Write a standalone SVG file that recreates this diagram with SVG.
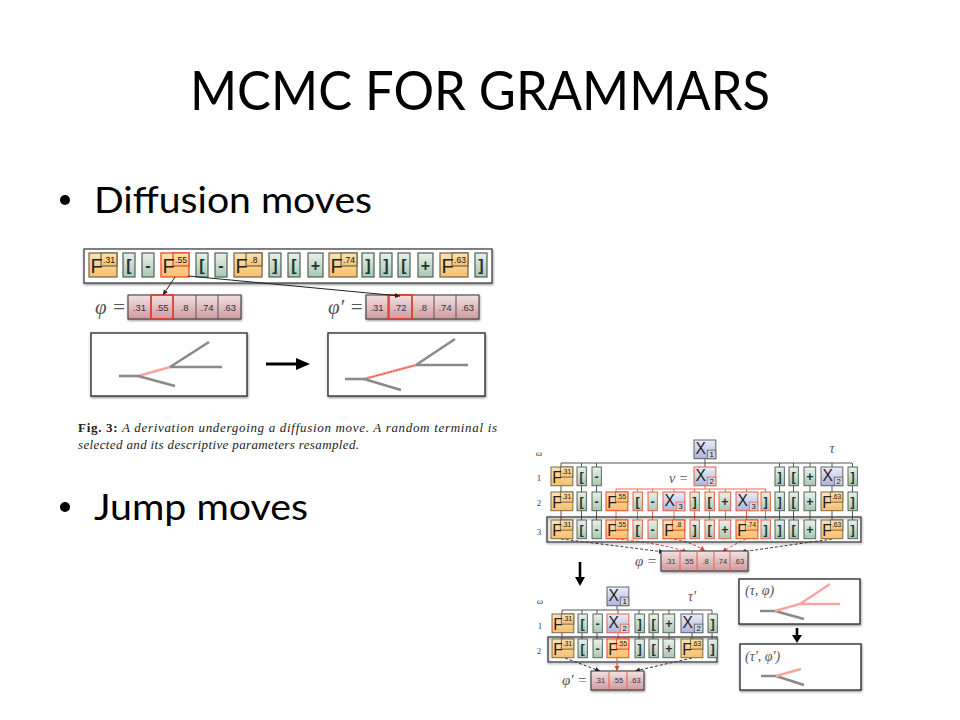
<svg xmlns="http://www.w3.org/2000/svg" width="960" height="720" viewBox="0 0 960 720">
<style>
text{font-family:"Liberation Sans",Arial,sans-serif;fill:#111}
.h{font-family:Lato,"Liberation Sans",sans-serif;fill:#000}
.o{fill:url(#go);stroke:#6f6544;stroke-width:1.2}
.or{fill:url(#go);stroke:#ee4a2a;stroke-width:1.3}
.g{fill:url(#gg);stroke:#4f5f55;stroke-width:1.2}
.gr{fill:url(#gg);stroke:#e9604a;stroke-width:1.3}
.b{fill:url(#gb);stroke:#555a6a;stroke-width:1.2}
.br{fill:url(#gb);stroke:#e9604a;stroke-width:1.3}
.l{font-size:20px;fill:#222}
.v{font-size:8.5px;text-anchor:middle}
.s{font-size:16px;font-weight:bold;text-anchor:middle;fill:#233}
.n{font-size:10px;text-anchor:middle}
.box{fill:#fff;stroke:#333;stroke-width:1.4;filter:url(#sh)}
.row{fill:#fff;stroke:#444;stroke-width:1.3;filter:url(#sh)}
.cell{fill:url(#gp);stroke:#333;stroke-width:1}
.hi{fill:none;stroke:#ee3a24;stroke-width:1.5}
.cv{text-anchor:middle;fill:#333}
.m{font-family:"Liberation Serif",serif;font-style:italic;fill:#555}
.d{font-family:"Liberation Serif",serif;fill:#444;font-size:9px;text-anchor:middle}
.t{fill:none;stroke:#8a8a8a;stroke-width:2.6}
.p{fill:none;stroke:#f6a5a0;stroke-width:2.4}
.k{fill:none;stroke:#555;stroke-width:1}
.r{fill:none;stroke:#ee6a55;stroke-width:1}
.dk{fill:none;stroke:#333;stroke-width:1;stroke-dasharray:3 2;marker-end:url(#ah)}
.dr{fill:none;stroke:#e8402c;stroke-width:1;stroke-dasharray:3 2;marker-end:url(#ar)}
.cap{font-family:"Liberation Serif",serif;font-size:13px;font-style:italic;fill:#222}
</style>
<defs>
<linearGradient id="go" x1="0" y1="0" x2="0" y2="1"><stop offset="0" stop-color="#fde3b8"/><stop offset="1" stop-color="#f8bf6c"/></linearGradient>
<linearGradient id="gg" x1="0" y1="0" x2="0" y2="1"><stop offset="0" stop-color="#e9f1ea"/><stop offset="1" stop-color="#a9c7b2"/></linearGradient>
<linearGradient id="gb" x1="0" y1="0" x2="0" y2="1"><stop offset="0" stop-color="#eceef8"/><stop offset="1" stop-color="#aeb2da"/></linearGradient>
<linearGradient id="gp" x1="0" y1="0" x2="0" y2="1"><stop offset="0" stop-color="#f2e2e2"/><stop offset="1" stop-color="#cf9a9e"/></linearGradient>
<filter id="sh" x="-5%" y="-15%" width="110%" height="135%"><feDropShadow dx="0.5" dy="1.2" stdDeviation="0.9" flood-color="#000" flood-opacity=".45"/></filter>
<marker id="ah" markerWidth="6" markerHeight="6" refX="5" refY="3" orient="auto"><path d="M0 .5L5 3L0 5.500z" fill="#222"/></marker>
<marker id="ar" markerWidth="6" markerHeight="6" refX="5" refY="3" orient="auto"><path d="M0 .5L5 3L0 5.500z" fill="#e8402c"/></marker>
<g id="F"><rect class="o" width="28" height="24"/><rect class="o" x="12" width="16" height="13"/><text class="l" x="1.500" y="20">F</text></g>
<g id="Fr"><rect class="or" width="28" height="24"/><rect class="or" x="12" width="16" height="13"/><text class="l" x="1.500" y="20">F</text></g>
<g id="B"><rect class="g" width="12" height="24"/></g>
<g id="Br"><rect class="gr" width="12" height="24"/></g>
<g id="P"><rect class="g" width="15" height="24"/></g>
<g id="Pr"><rect class="gr" width="15" height="24"/></g>
<g id="X"><rect class="b" width="28" height="24"/><rect x="17" y="13" width="11" height="11" fill="#d4d4dc" stroke="#555a6a"/><text class="l" x="2" y="18">X</text></g>
<g id="Xr"><rect class="br" width="28" height="24"/><rect x="17" y="13" width="11" height="11" fill="#d4d4dc" stroke="#e9604a"/><text class="l" x="2" y="18">X</text></g>
</defs>
<rect width="960" height="720" fill="#fff"/>

<text class="h" x="480" y="110" font-size="55" text-anchor="middle" textLength="580" lengthAdjust="spacingAndGlyphs">MCMC FOR GRAMMARS</text>
<g id="bullet-diffusion"><circle cx="65" cy="200" r="5" fill="#000"/><text class="h" x="94" y="213" font-size="37" textLength="278" lengthAdjust="spacingAndGlyphs">Diffusion moves</text></g>
<g id="bullet-jump"><circle cx="65" cy="507" r="5" fill="#000"/><text class="h" x="94" y="520" font-size="37" textLength="214" lengthAdjust="spacingAndGlyphs">Jump moves</text></g>

<g id="diffusion-string">
<rect class="row" x="84" y="249" width="408" height="34"/>
<g transform="translate(89,253)"><use href="#F"/><text class="v" x="20" y="9.500">.31</text></g>
<g transform="translate(123,253)"><use href="#B"/><text class="s" x="6" y="18">[</text></g>
<g transform="translate(142,253)"><use href="#B"/><text class="s" x="6" y="18">-</text></g>
<g transform="translate(161,253)"><use href="#Fr"/><text class="v" x="20" y="9.500">.55</text></g>
<g transform="translate(196,253)"><use href="#B"/><text class="s" x="6" y="18">[</text></g>
<g transform="translate(215,253)"><use href="#B"/><text class="s" x="6" y="18">-</text></g>
<g transform="translate(234,253)"><use href="#F"/><text class="v" x="20" y="9.500">.8</text></g>
<g transform="translate(269,253)"><use href="#B"/><text class="s" x="6" y="18">]</text></g>
<g transform="translate(288,253)"><use href="#B"/><text class="s" x="6" y="18">[</text></g>
<g transform="translate(308,253)"><use href="#P"/><text class="s" x="7.500" y="18">+</text></g>
<g transform="translate(329,253)"><use href="#F"/><text class="v" x="20" y="9.500">.74</text></g>
<g transform="translate(362,253)"><use href="#B"/><text class="s" x="6" y="18">]</text></g>
<g transform="translate(380,253)"><use href="#B"/><text class="s" x="6" y="18">]</text></g>
<g transform="translate(398,253)"><use href="#B"/><text class="s" x="6" y="18">[</text></g>
<g transform="translate(418,253)"><use href="#P"/><text class="s" x="7.500" y="18">+</text></g>
<g transform="translate(440,253)"><use href="#F"/><text class="v" x="20" y="9.500">.63</text></g>
<g transform="translate(475,253)"><use href="#B"/><text class="s" x="6" y="18">]</text></g>
</g>

<g id="phi-array" font-size="9.500">
<text class="m" x="95" y="314" font-size="21">φ =</text>
<rect class="cell" x="128" y="295" width="113" height="24" style="filter:url(#sh)"/>
<path class="k" d="M151 295V319M173 295V319M196 295V319M218 295V319"/>
<rect class="hi" x="151" y="295" width="22" height="24"/>
<text class="cv" x="139.500" y="311">.31</text><text class="cv" x="162" y="311">.55</text><text class="cv" x="184.500" y="311">.8</text><text class="cv" x="207" y="311">.74</text><text class="cv" x="229.500" y="311">.63</text>
</g>
<g id="phi-prime-array" font-size="9.500">
<text class="m" x="328" y="314" font-size="21">φ′ =</text>
<rect class="cell" x="366" y="295" width="113" height="24" style="filter:url(#sh)"/>
<path class="k" d="M388 295V319M412 295V319M434 295V319M456 295V319"/>
<rect class="hi" x="389" y="295" width="23" height="24"/>
<text class="cv" x="377" y="311">.31</text><text class="cv" x="400" y="311">.72</text><text class="cv" x="423" y="311">.8</text><text class="cv" x="445" y="311">.74</text><text class="cv" x="467.500" y="311">.63</text>
</g>

<g id="panel-before">
<rect class="box" x="91" y="333" width="156" height="63"/>
<path class="t" d="M119 376H138"/><path class="p" d="M138 376L170 367"/><path class="t" d="M170 367L209 342M170 367H222M138 376L175 386"/>
</g>
<g id="panel-after">
<rect class="box" x="328" y="333" width="157" height="63"/>
<path class="t" d="M345 379H364"/><path class="p" d="M364 379L416 365"/><path d="M364 379L416 365" fill="none" stroke="#e8402c" stroke-width="1" stroke-dasharray="2 1"/><path class="t" d="M416 365L455 339M416 365H468M364 379L401 390"/>
</g>

<g id="diffusion-connectors">
<path d="M175 277L163 295" fill="none" stroke="#222" marker-end="url(#ah)"/>
<path d="M188 276L400 296" fill="none" stroke="#222" marker-end="url(#ah)"/>
<path d="M266 364H300" stroke="#000" stroke-width="3" fill="none"/><path d="M296 358L310 364L296 370z" fill="#000"/>
</g>

<g id="caption">
<text class="cap" x="78" y="432" textLength="419"><tspan font-weight="bold" font-style="normal">Fig. 3:</tspan> A derivation undergoing a diffusion move. A random terminal is</text>
<text class="cap" x="78" y="449" textLength="281">selected and its descriptive parameters resampled.</text>
</g>

<g id="jump-connectors">
<path class="k" d="M705 458V467M561 463H852M561 463V520M581.500 463V520M596.500 463V520M779.500 463V520M793.500 463V520M810 463V520M832 463V520M852.500 463V520"/>
<path class="r" d="M705 486V489M616 489H766M616 489V520M637.500 489V520M652.500 489V520M674 489V520M694.500 489V520M709.500 489V520M725.500 489V520M746.500 489V520M765.500 489V520"/>
<path class="dk" d="M561 539Q610 545 664 552"/><path class="dr" d="M616 539Q660 543 687 552"/><path class="dr" d="M674 539Q694 543 705 551"/><path class="dr" d="M746 539Q735 544 722 552"/><path class="dk" d="M832 539Q790 545 741 552"/>
<path class="k" d="M617 606V610M562 610H712M562 610V639M582 610V639M597 610V639M618 610V614M639 610V639M653 610V639M669 610V639M692 610V639M712 610V639"/>
<path class="r" d="M618 633V639"/>
<path class="dk" d="M565 658L600 671"/><path class="dr" d="M617 658V671"/><path class="dk" d="M692 658L635 671"/>
<path d="M580 562V578" stroke="#000" stroke-width="2.600"/><path d="M575 577H585L580 586z" fill="#000"/>
<path d="M797 628V636" stroke="#000" stroke-width="2.600"/><path d="M792 635H802L797 643z" fill="#000"/>
</g>

<g id="omega-labels">
<text class="d" x="539" y="456" font-style="italic">ω</text><text class="d" x="539" y="481">1</text><text class="d" x="539" y="506">2</text><text class="d" x="539" y="535">3</text>
<text class="d" x="540" y="604" font-style="italic">ω</text><text class="d" x="540" y="629">1</text><text class="d" x="539" y="654">2</text>
<text class="m" x="832" y="453" font-size="14" text-anchor="middle">τ</text>
<text class="m" x="692" y="601" font-size="14" text-anchor="middle">τ′</text>
<text class="m" x="669" y="483" font-size="14">v =</text>
<text class="m" x="635" y="566" font-size="15">φ =</text>
<text class="m" x="562" y="685" font-size="15">φ′ =</text>
</g>

<g id="x1-top" transform="translate(694,440) scale(.78)"><use href="#X"/><text class="n" x="22.500" y="22">1</text></g>

<g id="row1">
<g transform="translate(551,467) scale(.78)"><use href="#F"/><text class="v" x="20" y="9.500">.31</text></g>
<g transform="translate(577,467) scale(.78)"><use href="#B"/><text class="s" x="6" y="18">[</text></g>
<g transform="translate(592,467) scale(.78)"><use href="#B"/><text class="s" x="6" y="18">-</text></g>
<g transform="translate(694,467) scale(.78)"><use href="#Xr"/><text class="n" x="22.500" y="22">2</text></g>
<g transform="translate(775,467) scale(.78)"><use href="#B"/><text class="s" x="6" y="18">]</text></g>
<g transform="translate(789,467) scale(.78)"><use href="#B"/><text class="s" x="6" y="18">[</text></g>
<g transform="translate(804,467) scale(.78)"><use href="#P"/><text class="s" x="7.500" y="18">+</text></g>
<g transform="translate(821,467) scale(.78)"><use href="#X"/><text class="n" x="22.500" y="22">2</text></g>
<g transform="translate(848,467) scale(.78)"><use href="#B"/><text class="s" x="6" y="18">]</text></g>
</g>

<g id="row2">
<g transform="translate(551,492) scale(.78)"><use href="#F"/><text class="v" x="20" y="9.500">.31</text></g>
<g transform="translate(577,492) scale(.78)"><use href="#B"/><text class="s" x="6" y="18">[</text></g>
<g transform="translate(592,492) scale(.78)"><use href="#B"/><text class="s" x="6" y="18">-</text></g>
<g transform="translate(606,492) scale(.78)"><use href="#Fr"/><text class="v" x="20" y="9.500">.55</text></g>
<g transform="translate(633,492) scale(.78)"><use href="#Br"/><text class="s" x="6" y="18">[</text></g>
<g transform="translate(648,492) scale(.78)"><use href="#Br"/><text class="s" x="6" y="18">-</text></g>
<g transform="translate(663,492) scale(.78)"><use href="#Xr"/><text class="n" x="22.500" y="22">3</text></g>
<g transform="translate(690,492) scale(.78)"><use href="#Br"/><text class="s" x="6" y="18">]</text></g>
<g transform="translate(705,492) scale(.78)"><use href="#Br"/><text class="s" x="6" y="18">[</text></g>
<g transform="translate(719,492) scale(.78)"><use href="#Pr"/><text class="s" x="7.500" y="18">+</text></g>
<g transform="translate(736,492) scale(.78)"><use href="#Xr"/><text class="n" x="22.500" y="22">3</text></g>
<g transform="translate(761,492) scale(.78)"><use href="#Br"/><text class="s" x="6" y="18">]</text></g>
<g transform="translate(775,492) scale(.78)"><use href="#B"/><text class="s" x="6" y="18">]</text></g>
<g transform="translate(789,492) scale(.78)"><use href="#B"/><text class="s" x="6" y="18">[</text></g>
<g transform="translate(804,492) scale(.78)"><use href="#P"/><text class="s" x="7.500" y="18">+</text></g>
<g transform="translate(821,492) scale(.78)"><use href="#F"/><text class="v" x="20" y="9.500">.63</text></g>
<g transform="translate(848,492) scale(.78)"><use href="#B"/><text class="s" x="6" y="18">]</text></g>
</g>

<g id="row3">
<rect x="547" y="517" width="314" height="25" fill="none" stroke="#444" stroke-width="1.300" style="filter:url(#sh)"/>
<g transform="translate(551,520) scale(.78)"><use href="#F"/><text class="v" x="20" y="9.500">.31</text></g>
<g transform="translate(577,520) scale(.78)"><use href="#B"/><text class="s" x="6" y="18">[</text></g>
<g transform="translate(592,520) scale(.78)"><use href="#B"/><text class="s" x="6" y="18">-</text></g>
<g transform="translate(606,520) scale(.78)"><use href="#Fr"/><text class="v" x="20" y="9.500">.55</text></g>
<g transform="translate(633,520) scale(.78)"><use href="#Br"/><text class="s" x="6" y="18">[</text></g>
<g transform="translate(648,520) scale(.78)"><use href="#Br"/><text class="s" x="6" y="18">-</text></g>
<g transform="translate(663,520) scale(.78)"><use href="#Fr"/><text class="v" x="20" y="9.500">.8</text></g>
<g transform="translate(690,520) scale(.78)"><use href="#Br"/><text class="s" x="6" y="18">]</text></g>
<g transform="translate(705,520) scale(.78)"><use href="#Br"/><text class="s" x="6" y="18">[</text></g>
<g transform="translate(719,520) scale(.78)"><use href="#Pr"/><text class="s" x="7.500" y="18">+</text></g>
<g transform="translate(736,520) scale(.78)"><use href="#Fr"/><text class="v" x="20" y="9.500">.74</text></g>
<g transform="translate(761,520) scale(.78)"><use href="#Br"/><text class="s" x="6" y="18">]</text></g>
<g transform="translate(775,520) scale(.78)"><use href="#B"/><text class="s" x="6" y="18">]</text></g>
<g transform="translate(789,520) scale(.78)"><use href="#B"/><text class="s" x="6" y="18">[</text></g>
<g transform="translate(804,520) scale(.78)"><use href="#P"/><text class="s" x="7.500" y="18">+</text></g>
<g transform="translate(821,520) scale(.78)"><use href="#F"/><text class="v" x="20" y="9.500">.63</text></g>
<g transform="translate(848,520) scale(.78)"><use href="#B"/><text class="s" x="6" y="18">]</text></g>
</g>

<g id="phi-jump" font-size="7.500">
<rect class="cell" x="661" y="551" width="87" height="20" style="filter:url(#sh)"/>
<path d="M680 551V571M697 551V571M714 551V571M730 551V571" fill="none" stroke="#e8604c"/>
<text class="cv" x="670.500" y="564">.31</text><text class="cv" x="688.500" y="564">.55</text><text class="cv" x="705.500" y="564">.8</text><text class="cv" x="722" y="564">.74</text><text class="cv" x="739" y="564">.63</text>
</g>

<g id="x1-lower" transform="translate(607,587) scale(.78)"><use href="#X"/><text class="n" x="22.500" y="22">1</text></g>

<g id="lower-row1">
<g transform="translate(552,614) scale(.78)"><use href="#F"/><text class="v" x="20" y="9.500">.31</text></g>
<g transform="translate(578,614) scale(.78)"><use href="#B"/><text class="s" x="6" y="18">[</text></g>
<g transform="translate(593,614) scale(.78)"><use href="#B"/><text class="s" x="6" y="18">-</text></g>
<g transform="translate(607,614) scale(.78)"><use href="#Xr"/><text class="n" x="22.500" y="22">2</text></g>
<g transform="translate(635,614) scale(.78)"><use href="#B"/><text class="s" x="6" y="18">]</text></g>
<g transform="translate(649,614) scale(.78)"><use href="#B"/><text class="s" x="6" y="18">[</text></g>
<g transform="translate(663,614) scale(.78)"><use href="#P"/><text class="s" x="7.500" y="18">+</text></g>
<g transform="translate(681,614) scale(.78)"><use href="#X"/><text class="n" x="22.500" y="22">2</text></g>
<g transform="translate(708,614) scale(.78)"><use href="#B"/><text class="s" x="6" y="18">]</text></g>
</g>

<g id="lower-row2">
<rect x="548" y="637" width="169" height="25" fill="none" stroke="#444" stroke-width="1.300" style="filter:url(#sh)"/>
<g transform="translate(552,639) scale(.78)"><use href="#F"/><text class="v" x="20" y="9.500">.31</text></g>
<g transform="translate(578,639) scale(.78)"><use href="#B"/><text class="s" x="6" y="18">[</text></g>
<g transform="translate(593,639) scale(.78)"><use href="#B"/><text class="s" x="6" y="18">-</text></g>
<g transform="translate(607,639) scale(.78)"><use href="#Fr"/><text class="v" x="20" y="9.500">.55</text></g>
<g transform="translate(635,639) scale(.78)"><use href="#B"/><text class="s" x="6" y="18">]</text></g>
<g transform="translate(649,639) scale(.78)"><use href="#B"/><text class="s" x="6" y="18">[</text></g>
<g transform="translate(663,639) scale(.78)"><use href="#P"/><text class="s" x="7.500" y="18">+</text></g>
<g transform="translate(681,639) scale(.78)"><use href="#F"/><text class="v" x="20" y="9.500">.63</text></g>
<g transform="translate(708,639) scale(.78)"><use href="#B"/><text class="s" x="6" y="18">]</text></g>
</g>

<g id="phi-lower" font-size="7.500">
<rect class="cell" x="591" y="671" width="53" height="19" style="filter:url(#sh)"/>
<path d="M609 671V690M627 671V690" fill="none" stroke="#e8604c"/>
<text class="cv" x="600" y="683">.31</text><text class="cv" x="618" y="683">.55</text><text class="cv" x="635.500" y="683">.63</text>
</g>

<g id="panel-tau-phi">
<rect class="box" x="739" y="579" width="121" height="45"/>
<text class="m" x="745" y="595" font-size="14">(τ, φ)</text>
<path class="t" d="M760 611H775M775 611L804 619"/><path class="p" d="M775 611L800 604L830 584M800 604H840"/>
</g>
<g id="panel-tau-phi-prime">
<rect class="box" x="740" y="644" width="121" height="46"/>
<text class="m" x="745" y="661" font-size="14">(τ′, φ′)</text>
<path class="t" d="M761 676H776M776 676L804 685"/><path class="p" d="M776 676L801 669"/>
</g>
</svg>
